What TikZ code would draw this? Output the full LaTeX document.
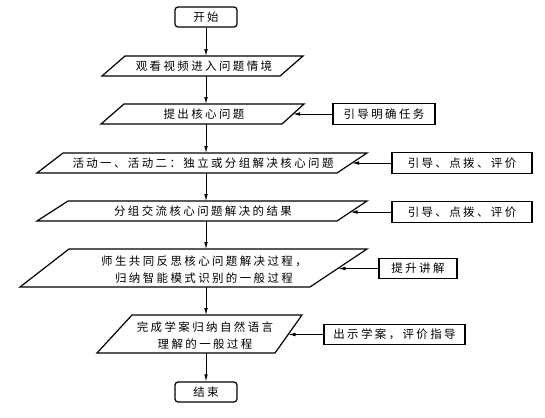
\documentclass[tikz,border=0pt]{standalone}
\usepackage{fontspec}
\newfontfamily\cjk[LetterSpace=21]{Noto Sans CJK SC}
\usetikzlibrary{arrows.meta}
\begin{document}
\begin{tikzpicture}[x=1bp,y=-1bp,
  every node/.style={font=\cjk\fontsize{11.5}{17}\selectfont, inner sep=0pt, align=center},
  arr/.style={draw, line width=0.8bp, -{Latex[length=7bp,width=3.6bp]}},
  termbox/.style={draw, line width=1.2bp, rounded corners=3bp, minimum width=62bp, minimum height=20bp},
  sidebox/.style={draw, line width=1.2bp, minimum height=20.5bp},
  para/.style={draw, line width=1.2bp, line join=miter}]
\useasboundingbox (0,0) rectangle (545,417);

% terminals
\node[termbox] (start) at (206,17) {开始};
\node[termbox] (end) at (206,392) {结束};

% parallelograms
\draw[para] (102,76) -- (125,56) -- (303,56) -- (280,76) -- cycle;
\node (p1) at (204,66) {观看视频进入问题情境};
\coordinate (p1t) at (206,56); \coordinate (p1b) at (206,76);

\draw[para] (101,124) -- (124,104) -- (304,104) -- (282,124) -- cycle;
\node (p2) at (204,114) {提出核心问题};
\coordinate (p2t) at (206,104); \coordinate (p2b) at (206,124);
\coordinate (p2r) at (293,114);

\draw[para] (37,173) -- (63,153) -- (367,153) -- (337,173) -- cycle;
\node (p3) at (203,163) {活动一、活动二：独立或分组解决核心问题};
\coordinate (p3t) at (206,153); \coordinate (p3b) at (206,173);
\coordinate (p3r) at (352,163);

\draw[para] (37,221) -- (68,201) -- (367,201) -- (337,221) -- cycle;
\node (p4) at (203,211) {分组交流核心问题解决的结果};
\coordinate (p4t) at (206,201); \coordinate (p4b) at (206,221);
\coordinate (p4r) at (350.5,212);

\draw[para] (20,287) -- (69,249) -- (367,249) -- (310,287) -- cycle;
\node (p5) at (204,269.5) {师生共同反思核心问题解决过程，\\归纳智能模式识别的一般过程};
\coordinate (p5t) at (206,249); \coordinate (p5b) at (206,287);
\coordinate (p5r) at (338.5,268.5);

\draw[para] (97,353) -- (132,315) -- (302,315) -- (275,353) -- cycle;
\node (p6) at (205,335.5) {完成学案归纳自然语言\\理解的一般过程};
\coordinate (p6t) at (206,315); \coordinate (p6b) at (206,353);
\coordinate (p6r) at (288.5,334.5);

% side boxes
\node[sidebox, minimum width=102bp] (b1) at (384,114) {引导明确任务};
\node[sidebox, minimum width=140bp] (b2) at (462,163) {引导、点拨、评价};
\node[sidebox, minimum width=140bp] (b3) at (462,212) {引导、点拨、评价};
\node[sidebox, minimum width=78bp] (b4) at (418,268.5) {提升讲解};
\node[sidebox, minimum width=141bp] (b5) at (394.5,334.5) {出示学案，评价指导};

% main flow
\draw[arr] (start.south) -- (p1t);
\draw[arr] (p1b) -- (p2t);
\draw[arr] (p2b) -- (p3t);
\draw[arr] (p3b) -- (p4t);
\draw[arr] (p4b) -- (p5t);
\draw[arr] (p5b) -- (p6t);
\draw[arr] (p6b) -- (end.north);

% side arrows
\draw[arr] (b1.west) -- (p2r);
\draw[arr] (b2.west) -- (p3r);
\draw[arr] (b3.west) -- (p4r);
\draw[arr] (b4.west) -- (p5r);
\draw[arr] (b5.west) -- (p6r);
\end{tikzpicture}
\end{document}
